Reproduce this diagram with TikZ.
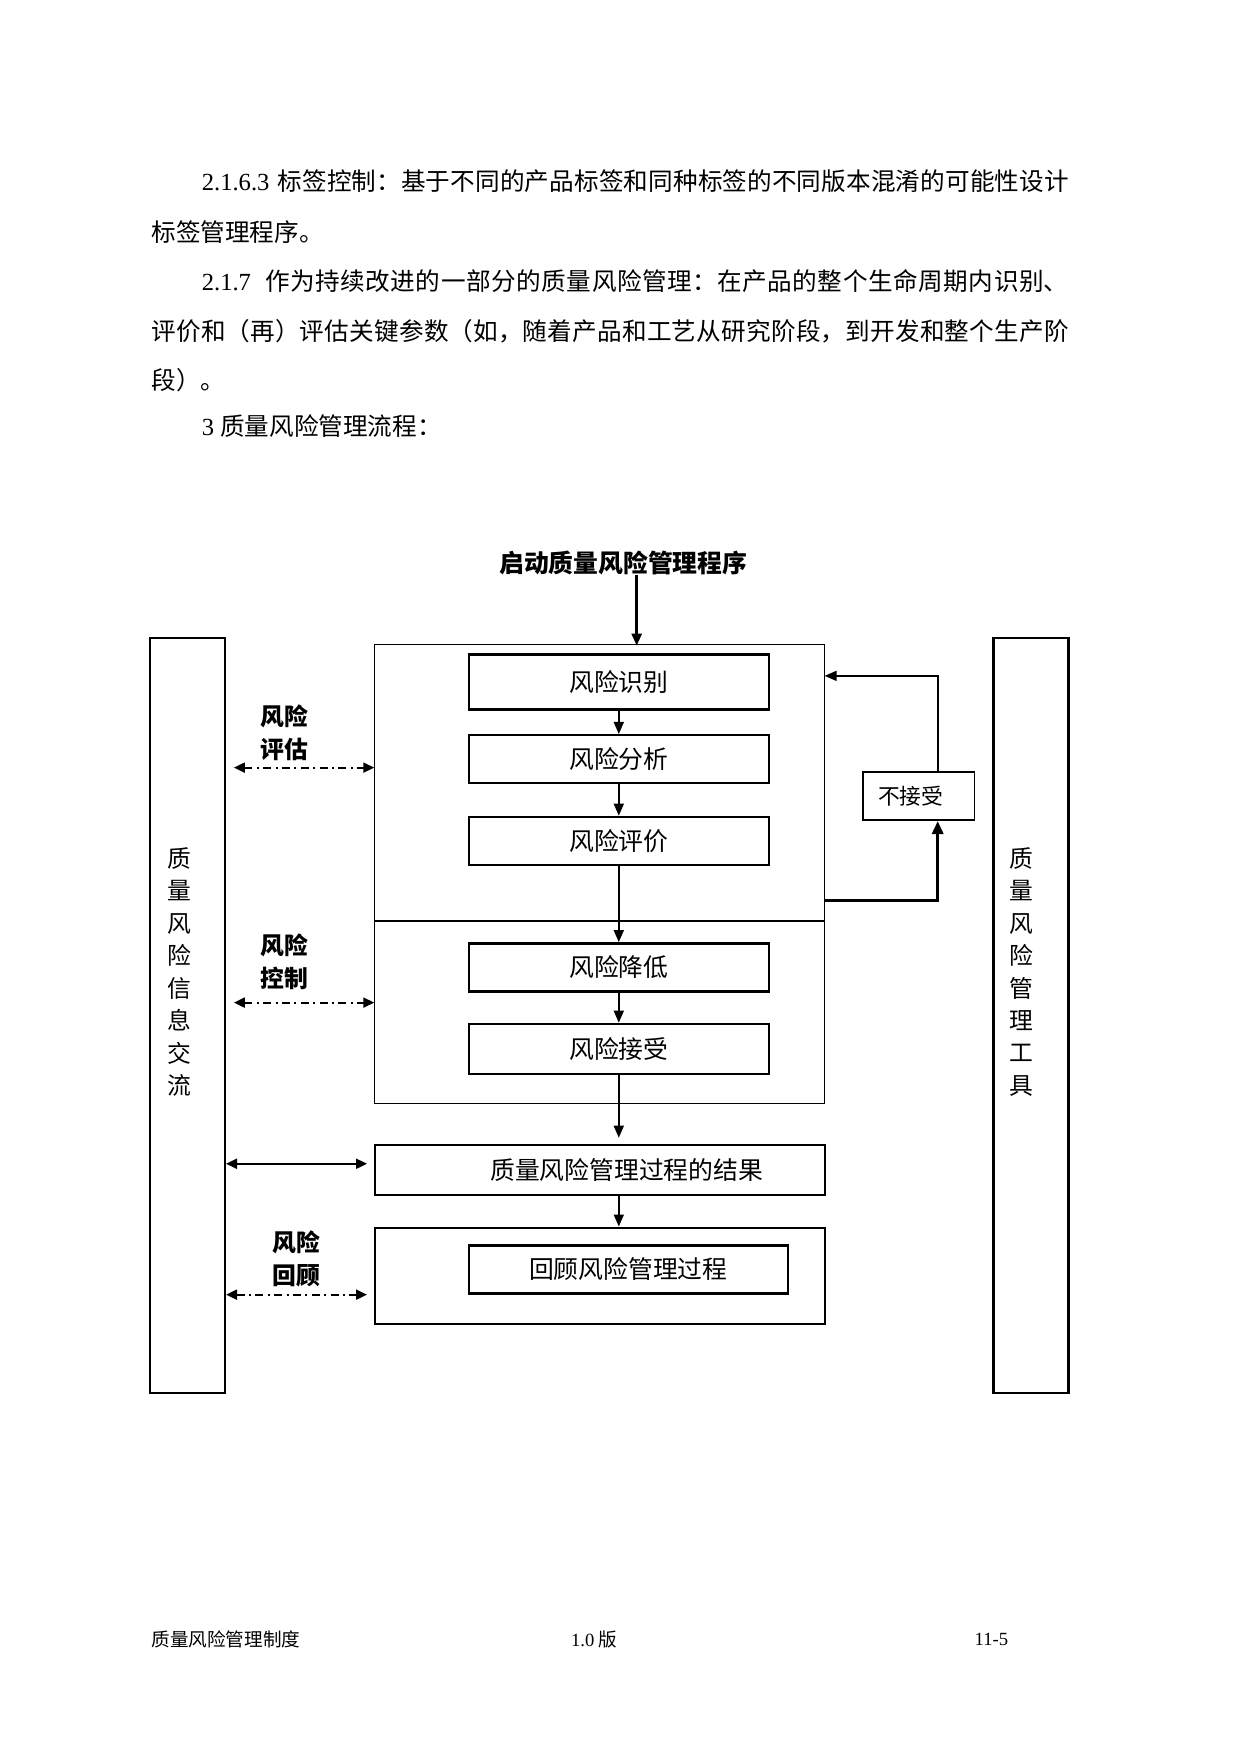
\documentclass[tikz,border=0pt]{standalone}
\usepackage{fontspec}
\setmainfont{Noto Sans CJK SC}
\newfontfamily\lat{Liberation Serif}
\usetikzlibrary{arrows.meta,calc}
\XeTeXlinebreaklocale "zh"
\XeTeXlinebreakskip=0pt plus 1fil
\def\pxu{0.5595pt}
\newcommand\jl[1]{\leftskip=0pt\rightskip=0pt\parfillskip=0pt\parindent=0pt\relax #1}
\tikzset{
  body/.style={anchor=west, inner sep=0pt, font=\fontsize{12.3}{15}\selectfont},
  jline/.style={body, text width=#1},
  inbox/.style={draw, line width=1.2pt, inner sep=0pt, font=\fontsize{12.4}{15}\selectfont},
  outbox/.style={draw, line width=0.6pt, inner sep=0pt},
  midbox/.style={draw, line width=1pt, inner sep=0pt, font=\fontsize{12.4}{15}\selectfont},
  tallbox/.style={draw, line width=1.2pt, inner sep=0pt},
  vtext/.style={align=center, inner sep=0pt, font=\fontsize{11.9}{16.23}\selectfont},
  lbl/.style={align=center, inner sep=0pt, font=\fontsize{11.9}{16.8}\selectfont\bfseries},
  arr/.style={-{Triangle[length=6pt,width=5pt]}, line width=0.85pt},
  dda/.style={{Triangle[length=5.5pt,width=5pt]}-{Triangle[length=5.5pt,width=5pt]}, line width=1pt, dash pattern=on 4pt off 2.2pt on 1pt off 2.2pt},
  sda/.style={{Triangle[length=5.5pt,width=5pt]}-{Triangle[length=5.5pt,width=5pt]}, line width=1.1pt},
  foot/.style={inner sep=0pt, font=\fontsize{9.3}{11}\selectfont}
}
\begin{document}
\begin{tikzpicture}[x=0.5595pt, y=-0.5595pt]
\useasboundingbox[fill=white] (0,0) rectangle (1109,1567.5);

% body text
\node[jline=433.6pt] (l1) at (180,162) {\jl{{\lat 2.1.6.3 }标签控制：基于不同的产品标签和同种标签的不同版本混淆的可能性设计}};
\node[body] (l2) at (135,207) {标签管理程序。};
\node[jline=433.6pt] (l3) at (180,251) {\jl{{\lat 2.1.7}\hspace{7pt}作为持续改进的一部分的质量风险管理：在产品的整个生命周期内识别、}};
\node[jline=458.8pt] (l4) at (135,296) {\jl{评价和（再）评估关键参数（如，随着产品和工艺从研究阶段，到开发和整个生产阶}};
\node[body] (l5) at (135,340) {段）。};
\node[body] (l6) at (180,381) {{\lat 3 }质量风险管理流程：};

% title
\node[inner sep=0pt, font=\fontsize{12.4}{15}\selectfont\bfseries] (title) at (557,503) {启动质量风险管理程序};

% side boxes
\node[tallbox, minimum width=67*\pxu, minimum height=675*\pxu] (left) at (167.5,907.5) {};
\node[tallbox, minimum width=67*\pxu, minimum height=675*\pxu] (right) at (921.5,907.5) {};
\node[vtext] (ltxt) at (160,868.5) {质\\量\\风\\险\\信\\息\\交\\流};
\node[vtext] (rtxt) at (913,868.5) {质\\量\\风\\险\\管\\理\\工\\具};

% main frames
\node[outbox, minimum width=402*\pxu, minimum height=247*\pxu] (big1) at (536,699.5) {};
\node[outbox, minimum width=402*\pxu, minimum height=163*\pxu] (big2) at (536,904.5) {};

% inner boxes
\node[inbox, minimum width=268*\pxu, minimum height=49*\pxu] (id) at (553,609.5) {风险识别};
\node[inbox, minimum width=268*\pxu, minimum height=43*\pxu] (an) at (553,678.5) {风险分析};
\node[inbox, minimum width=268*\pxu, minimum height=43*\pxu] (ev) at (553,751.5) {风险评价};
\node[inbox, minimum width=268*\pxu, minimum height=43*\pxu] (red) at (553,864.5) {风险降低};
\node[inbox, minimum width=268*\pxu, minimum height=45*\pxu] (acc) at (553,937.5) {风险接受};

% result and review
\node[midbox, minimum width=402*\pxu, minimum height=45*\pxu] (res) at (536,1045.5) {};
\node[inner sep=0pt, font=\fontsize{12.4}{15}\selectfont] (restxt) at (560,1045.5) {质量风险管理过程的结果};
\node[midbox, minimum width=402*\pxu, minimum height=86*\pxu] (rev) at (536,1140) {};
\node[inbox, minimum width=285*\pxu, minimum height=43*\pxu] (revin) at (561.5,1134.5) {回顾风险管理过程};

% reject box
\node[draw, line width=0.8pt, inner sep=0pt, minimum width=100*\pxu, minimum height=43*\pxu] (rej) at (821,711.5) {};
\node[inner sep=0pt, font=\fontsize{10.9}{13}\selectfont] (rejtxt) at (814,711.5) {不接受};

% labels
\node[lbl] (lab1) at (254,655) {风险\\评估};
\node[lbl] (lab2) at (254,859.5) {风险\\控制};
\node[lbl] (lab3) at (265,1125) {风险\\回顾};

% footer
\node[foot, anchor=west] (f1) at (135,1465) {质量风险管理制度};
\node[foot] (f2) at (531,1465) {{\lat 1.0} 版};
\node[foot] (f3) at (886,1465) {\lat 11-5};

% main flow arrows
\coordinate (tin) at (569,577);
\draw[arr, line width=1.3pt] (title.south -| tin) -- (tin);
\draw[arr] (id.south) -- (an.north);
\draw[arr] (an.south) -- (ev.north);
\draw[arr] (ev.south) -- (red.north);
\draw[arr] (red.south) -- (acc.north);
\draw[arr] (acc.south) -- ([yshift=3pt]acc.south |- res.north);
\draw[arr] (acc.south |- res.south) -- (acc.south |- rev.north);

% reject loop
\coordinate (fb) at (737,805);
\coordinate (fbin) at (737,604);
\draw[-{Triangle[length=6.5pt,width=5.5pt]}, line width=1.6pt] (fb) -| ([xshift=9.5pt]rej.south);
\draw[arr] ([xshift=9.5pt]rej.north) |- (fbin);

% left exchange arrows
\coordinate (d1) at (209,686);
\coordinate (d2) at (209,896);
\coordinate (d3) at (202,1040);
\coordinate (d3r) at (328,1040);
\coordinate (d4) at (202,1157);
\coordinate (d4r) at (328,1157);
\draw[dda] (d1) -- (big1.west |- d1);
\draw[dda] (d2) -- (big2.west |- d2);
\draw[sda] (d3) -- (d3r);
\draw[dda] (d4) -- (d4r);
\end{tikzpicture}
\end{document}
